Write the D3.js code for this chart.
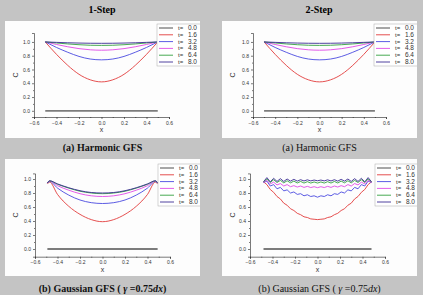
<!DOCTYPE html>
<html>
<head>
<meta charset="utf-8">
<script src="https://cdn.jsdelivr.net/npm/d3@7/dist/d3.min.js"></script>
<style>
body { margin: 0; background: #c4c4c4; }
svg { display: block; }
</style>
</head>
<body>
<div id="chart"></div>
<script>
// legend labels and colours
var times = ["0.0", "1.6", "3.2", "4.8", "6.4", "8.0"];
var colors = ["#3a3a3a", "#e23c3c", "#4a4ae0", "#e04ae6", "#33a040", "#3c2c94"];

var xTicks = [-0.6, -0.4, -0.2, 0.0, 0.2, 0.4, 0.6];
var yTicks = [0.0, 0.2, 0.4, 0.6, 0.8, 1.0];

// harmonic GFS (same for 1-step and 2-step)
var xHarm = [-0.5, -0.4, -0.3, -0.2, -0.1, 0, 0.1, 0.2, 0.3, 0.4, 0.5];
var harm00 = [0, 0, 0, 0, 0, 0, 0, 0, 0, 0, 0];
var harm16 = [1.0, 0.82, 0.66, 0.53, 0.45, 0.42, 0.45, 0.53, 0.66, 0.82, 1.0];
var harm32 = [1.0, 0.92, 0.85, 0.79, 0.752, 0.74, 0.752, 0.79, 0.85, 0.92, 1.0];
var harm48 = [1.0, 0.963, 0.93, 0.903, 0.886, 0.88, 0.886, 0.903, 0.93, 0.963, 1.0];
var harm64 = [1.0, 0.985, 0.971, 0.96, 0.952, 0.95, 0.952, 0.96, 0.971, 0.985, 1.0];
var harm80 = [1.0, 0.994, 0.988, 0.984, 0.981, 0.98, 0.981, 0.984, 0.988, 0.994, 1.0];

// gaussian GFS 1-step
var xGau1 = [-0.49, -0.47, -0.4, -0.3, -0.2, -0.1, 0, 0.1, 0.2, 0.3, 0.4, 0.47, 0.49];
var gau1_00 = [0, 0, 0, 0, 0, 0, 0, 0, 0, 0, 0, 0, 0];
var gau1_16 = [0.93, 0.955, 0.78, 0.61, 0.495, 0.42, 0.39, 0.42, 0.495, 0.61, 0.78, 0.955, 0.93];
var gau1_32 = [0.94, 0.965, 0.87, 0.77, 0.70, 0.662, 0.65, 0.662, 0.70, 0.77, 0.87, 0.965, 0.94];
var gau1_48 = [0.945, 0.97, 0.905, 0.84, 0.79, 0.76, 0.75, 0.76, 0.79, 0.84, 0.905, 0.97, 0.945];
var gau1_64 = [0.945, 0.972, 0.925, 0.87, 0.825, 0.80, 0.79, 0.80, 0.825, 0.87, 0.925, 0.972, 0.945];
var gau1_80 = [0.945, 0.975, 0.93, 0.875, 0.833, 0.807, 0.80, 0.807, 0.833, 0.875, 0.93, 0.975, 0.945];

// gaussian GFS 2-step (oscillating)
var xGau2 = [-0.48, -0.45, -0.42, -0.39, -0.36, -0.33, -0.30, -0.27, -0.24, -0.21, -0.18,
	-0.15, -0.12, -0.09, -0.06, -0.03, 0, 0.03, 0.06, 0.09, 0.12, 0.15,
	0.18, 0.21, 0.24, 0.27, 0.30, 0.33, 0.36, 0.39, 0.42, 0.45, 0.48];
var gau2_00 = [0, 0, 0, 0, 0, 0, 0, 0, 0, 0, 0, 0, 0, 0, 0, 0, 0,
	0, 0, 0, 0, 0, 0, 0, 0, 0, 0, 0, 0, 0, 0, 0, 0];
var gau2_16 = [0.96, 0.92, 0.85, 0.81, 0.75, 0.715, 0.655, 0.625, 0.575, 0.55, 0.51,
	0.49, 0.46, 0.45, 0.43, 0.425, 0.42, 0.425, 0.43, 0.45, 0.46, 0.49,
	0.51, 0.55, 0.575, 0.625, 0.655, 0.715, 0.75, 0.81, 0.85, 0.92, 0.96];
var gau2_32 = [0.95, 0.97, 0.9, 0.92, 0.86, 0.88, 0.83, 0.845, 0.8, 0.815, 0.78,
	0.79, 0.76, 0.775, 0.75, 0.76, 0.74, 0.76, 0.75, 0.775, 0.76, 0.79,
	0.78, 0.815, 0.8, 0.845, 0.83, 0.88, 0.86, 0.92, 0.9, 0.97, 0.95];
var gau2_48 = [0.95, 0.98, 0.93, 0.955, 0.915, 0.935, 0.9, 0.92, 0.89, 0.905, 0.885,
	0.9, 0.88, 0.895, 0.878, 0.89, 0.876, 0.89, 0.878, 0.895, 0.88, 0.9,
	0.885, 0.905, 0.89, 0.92, 0.9, 0.935, 0.915, 0.955, 0.93, 0.98, 0.95];
var gau2_64 = [0.96, 1.0, 0.95, 0.99, 0.95, 0.98, 0.945, 0.975, 0.945, 0.97, 0.943,
	0.965, 0.942, 0.962, 0.942, 0.958, 0.942, 0.958, 0.942, 0.962, 0.942, 0.965,
	0.943, 0.97, 0.945, 0.975, 0.945, 0.98, 0.95, 0.99, 0.95, 1.0, 0.96];
var gau2_80 = [0.96, 1.02, 0.96, 1.01, 0.965, 1.005, 0.965, 1.0, 0.97, 0.995, 0.97,
	0.99, 0.972, 0.988, 0.973, 0.985, 0.975, 0.985, 0.973, 0.988, 0.972, 0.99,
	0.97, 0.995, 0.97, 1.0, 0.965, 1.005, 0.965, 1.01, 0.96, 1.02, 0.96];

var W = 423, H = 295;

var svg = d3.select("#chart")
	.append("svg")
	.attr("width", W)
	.attr("height", H);

svg.append("rect")
	.attr("width", W)
	.attr("height", H)
	.style("fill", "#c4c4c4");

// panel layout
var panels = [
	{ px: 5, py: 21, pw: 195, ph: 117, xr: [34, 169], yd: [-0.09, 1.13], yr: [117, 33],
		xs: xHarm, ys: [harm00, harm16, harm32, harm48, harm64, harm80], curve: d3.curveNatural,
		lg: [157, 24], cap: "(a) Harmonic GFS", bold: true, capY: 151 },
	{ px: 222, py: 21, pw: 195, ph: 117, xr: [253, 386], yd: [-0.09, 1.13], yr: [117, 33],
		xs: xHarm, ys: [harm00, harm16, harm32, harm48, harm64, harm80], curve: d3.curveNatural,
		lg: [374, 24], cap: "(a) Harmonic GFS", bold: false, capY: 151 },
	{ px: 5, py: 159, pw: 195, ph: 117, xr: [35, 170], yd: [-0.11, 1.08], yr: [256.7, 173.4],
		xs: xGau1, ys: [gau1_00, gau1_16, gau1_32, gau1_48, gau1_64, gau1_80], curve: d3.curveMonotoneX,
		lg: [158, 164], cap: "gauss", bold: true, capY: 292 },
	{ px: 222, py: 159, pw: 195, ph: 117, xr: [250, 385], yd: [-0.11, 1.08], yr: [256.7, 173.4],
		xs: xGau2, ys: [gau2_00, gau2_16, gau2_32, gau2_48, gau2_64, gau2_80], curve: d3.curveLinear,
		lg: [375, 164], cap: "gauss", bold: false, capY: 292 }
];

// column titles
svg.selectAll(".title")
	.data(["1-Step", "2-Step"])
	.enter().append("text")
	.attr("class", "title")
	.attr("x", function(d, i) { return i === 0 ? 102 : 319; })
	.attr("y", 13)
	.attr("text-anchor", "middle")
	.style("font-family", "'Liberation Serif', 'Times New Roman', serif")
	.style("font-weight", "bold")
	.style("font-size", "10px")
	.text(function(d) { return d; });

panels.forEach(function(p, pi) {
	var g = svg.append("g");

	g.append("clipPath")
		.attr("id", "clip" + pi)
		.append("rect")
		.attr("x", p.px)
		.attr("y", p.py)
		.attr("width", p.pw)
		.attr("height", p.ph);

	g.append("rect")
		.attr("x", p.px)
		.attr("y", p.py)
		.attr("width", p.pw)
		.attr("height", p.ph)
		.style("fill", "#fdfdfd");

	var x = d3.scaleLinear().domain([-0.6, 0.6]).range(p.xr);
	var y = d3.scaleLinear().domain(p.yd).range(p.yr);

	// axes, major and minor ticks
	g.append("g")
		.attr("transform", "translate(" + p.xr[0] + ",0)")
		.call(d3.axisLeft(y).tickValues(yTicks).tickSize(2).tickPadding(2).tickFormat(d3.format(".1f")));
	g.append("g")
		.attr("transform", "translate(" + p.xr[0] + ",0)")
		.call(d3.axisLeft(y).tickValues([0.1, 0.3, 0.5, 0.7, 0.9]).tickSize(1).tickFormat(""))
		.select(".domain").remove();
	g.append("g")
		.attr("transform", "translate(0," + p.yr[0] + ")")
		.call(d3.axisBottom(x).tickValues(xTicks).tickSize(2).tickPadding(2).tickFormat(d3.format(".1f")));
	g.append("g")
		.attr("transform", "translate(0," + p.yr[0] + ")")
		.call(d3.axisBottom(x).tickValues([-0.5, -0.3, -0.1, 0.1, 0.3, 0.5]).tickSize(1).tickFormat(""))
		.select(".domain").remove();

	g.selectAll(".domain, .tick line")
		.style("stroke", "#222")
		.style("stroke-width", 0.6);
	g.selectAll(".tick text")
		.style("font-family", "Arial, 'Liberation Sans', sans-serif")
		.style("font-size", "5px")
		.style("fill", "#333");

	// axis titles
	g.append("text")
		.attr("transform", "translate(" + (p.px + 13) + "," + ((p.yr[0] + p.yr[1]) / 2) + ") rotate(-90)")
		.attr("text-anchor", "middle")
		.style("font-family", "Arial, 'Liberation Sans', sans-serif")
		.style("font-size", "7px")
		.style("fill", "#333")
		.text("C");
	g.append("text")
		.attr("x", x(0))
		.attr("y", p.yr[0] + 15)
		.attr("text-anchor", "middle")
		.style("font-family", "Arial, 'Liberation Sans', sans-serif")
		.style("font-size", "7px")
		.style("fill", "#333")
		.text("x");

	// curves
	var line = d3.line()
		.x(function(d) { return x(d[0]); })
		.y(function(d) { return y(d[1]); })
		.curve(p.curve);

	g.selectAll(".curve")
		.data(p.ys)
		.enter().append("path")
		.attr("class", "curve")
		.attr("d", function(vals) { return line(vals.map(function(v, k) { return [p.xs[k], v]; })); })
		.style("fill", "none")
		.style("stroke", function(d, i) { return i === 0 ? "#7c7c7c" : colors[i]; })
		.style("stroke-width", function(d, i) { return i === 0 ? 1.8 : 0.9; });

	// legend (outer group clipped to the panel, inner group moved)
	var lgWrap = g.append("g")
		.attr("clip-path", "url(#clip" + pi + ")");
	var lg = lgWrap.append("g")
		.attr("transform", "translate(" + p.lg[0] + "," + p.lg[1] + ")");
	lg.append("rect")
		.attr("width", 46)
		.attr("height", 42)
		.style("fill", "#fff")
		.style("stroke", "#aaa")
		.style("stroke-width", 0.5);
	var row = lg.selectAll(".lrow")
		.data(times)
		.enter().append("g")
		.attr("class", "lrow")
		.attr("transform", function(d, i) { return "translate(0," + (4 + i * 6.8) + ")"; });
	row.append("line")
		.attr("x1", 2)
		.attr("x2", 16)
		.style("stroke", function(d, i) { return colors[i]; })
		.style("stroke-width", 0.9);
	row.append("text")
		.attr("x", 21)
		.attr("y", 2)
		.style("font-family", "Arial, 'Liberation Sans', sans-serif")
		.style("font-size", "6px")
		.style("fill", "#333")
		.text("t=");
	row.append("text")
		.attr("x", 40)
		.attr("y", 2)
		.attr("text-anchor", "end")
		.style("font-family", "Arial, 'Liberation Sans', sans-serif")
		.style("font-size", "6.5px")
		.style("fill", "#333")
		.text(function(d) { return d; });

	// caption under the panel
	var cap = svg.append("text")
		.attr("x", p.px + p.pw / 2)
		.attr("y", p.capY)
		.attr("text-anchor", "middle")
		.style("font-family", "'Liberation Serif', 'Times New Roman', serif")
		.style("font-weight", p.bold ? "bold" : "normal")
		.style("font-size", "10px")
		.style("fill", "#111");
	if (p.cap === "gauss") {
		cap.append("tspan").text("(b) Gaussian GFS ( ");
		cap.append("tspan").style("font-style", "italic").text("γ");
		cap.append("tspan").text(" =0.75");
		cap.append("tspan").style("font-style", "italic").text("dx");
		cap.append("tspan").text(")");
	} else {
		cap.text(p.cap);
	}
});
</script>
</body>
</html>
